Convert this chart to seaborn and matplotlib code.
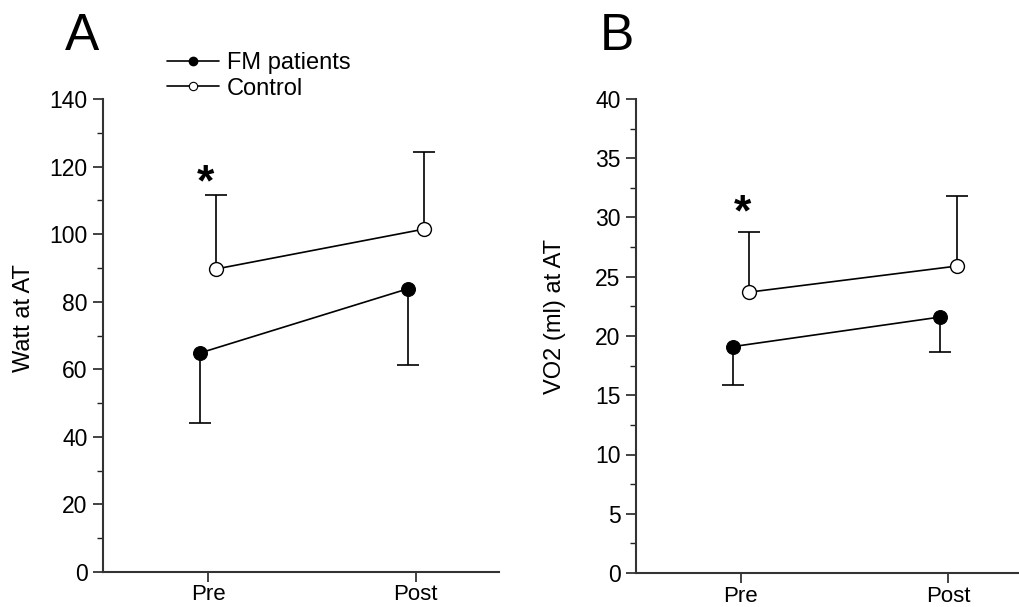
import numpy as np
import pandas as pd
import matplotlib
matplotlib.use("Agg")
import matplotlib.pyplot as plt
from matplotlib.lines import Line2D
from matplotlib.ticker import MultipleLocator
import seaborn as sns

# ---- data ----
time_labels = ["Pre", "Post"]
groups = ["FM patients", "Control"]

watt_fm = [64.8, 83.8]
watt_fm_sd = [20.6, 22.5]
watt_ctrl = [89.7, 101.5]
watt_ctrl_sd = [21.8, 22.8]

vo2_fm = [19.1, 21.6]
vo2_fm_sd = [3.2, 2.95]
vo2_ctrl = [23.7, 25.9]
vo2_ctrl_sd = [5.1, 5.9]

sns.set_style("ticks")
plt.rcParams["font.family"] = ["Liberation Sans", "DejaVu Sans"]
plt.rcParams["text.color"] = "black"
plt.rcParams["xtick.color"] = "#222222"
plt.rcParams["ytick.color"] = "#222222"
plt.rcParams["xtick.labelcolor"] = "black"
plt.rcParams["ytick.labelcolor"] = "black"
plt.rcParams["axes.labelcolor"] = "black"

fig = plt.figure(figsize=(10.19, 6.07), dpi=100)
axA = fig.add_axes([103/1019, 1-572/607, 396/1019, 473/607])
axB = fig.add_axes([636/1019, 1-573/607, 383/1019, 474/607])

dodge = 0.04
fs_tick = 16.5
fs_lab = 17
LW = 1.2

def make_df(fm, ctrl):
    rows = []
    for i, t in enumerate(time_labels):
        rows.append({"x": i - dodge, "value": fm[i], "group": "FM patients", "time": t})
        rows.append({"x": i + dodge, "value": ctrl[i], "group": "Control", "time": t})
    return pd.DataFrame(rows)

def one_sided(ax, x, y, err, up):
    y = np.asarray(y, dtype=float)
    err = np.asarray(err, dtype=float)
    yerr = [np.zeros_like(err), err] if up else [err, np.zeros_like(err)]
    _, caps, _ = ax.errorbar(x, y, yerr=yerr, fmt="none", ecolor="black",
                             elinewidth=LW, capsize=8, capthick=LW, zorder=2)
    # hide the cap that sits on the mean
    for c in caps:
        if np.allclose(c.get_ydata(), y):
            c.set_visible(False)

def draw(ax, fm, fm_sd, ctrl, ctrl_sd, ymax, major, minor, xmax, ylabel, star_xy, labcoords):
    df = make_df(fm, ctrl)
    fmdf = df[df.group == "FM patients"]
    cdf = df[df.group == "Control"]
    one_sided(ax, fmdf["x"].values, fmdf["value"].values, fm_sd, up=False)
    one_sided(ax, cdf["x"].values, cdf["value"].values, ctrl_sd, up=True)
    sns.lineplot(data=fmdf, x="x", y="value", ax=ax, color="black", lw=LW,
                 marker="o", markersize=10, markerfacecolor="black",
                 markeredgecolor="black", legend=False, zorder=3)
    sns.lineplot(data=cdf, x="x", y="value", ax=ax, color="black", lw=LW,
                 marker="o", markersize=10, markerfacecolor="white",
                 markeredgecolor="black", markeredgewidth=1.0, legend=False, zorder=3)
    ax.set_xlim(-0.505, xmax)
    ax.set_ylim(0, ymax)
    ax.set_xticks([0, 1])
    ax.set_xticklabels(time_labels)
    ax.yaxis.set_major_locator(MultipleLocator(major))
    ax.yaxis.set_minor_locator(MultipleLocator(minor))
    ax.tick_params(axis="y", which="major", labelsize=fs_tick, length=7, width=1.2,
                   direction="out", pad=4)
    ax.tick_params(axis="x", which="major", labelsize=16, length=7, width=1.2,
                   direction="out", pad=2)
    ax.tick_params(axis="y", which="minor", length=4, width=1.0)
    ax.set_xlabel("")
    ax.set_ylabel(ylabel, fontsize=fs_lab)
    ax.yaxis.set_label_coords(*labcoords)
    for s in ["top", "right"]:
        ax.spines[s].set_visible(False)
    for s in ["left", "bottom"]:
        ax.spines[s].set_linewidth(1.5)
        ax.spines[s].set_color("#333333")
    ax.text(star_xy[0], star_xy[1], "*", fontsize=32, fontweight="bold",
            ha="center", va="center")

draw(axA, watt_fm, watt_fm_sd, watt_ctrl, watt_ctrl_sd, 140, 20, 10, 1.40,
     "Watt at AT", (-0.01, 115.0), (-0.172, 0.537))
draw(axB, vo2_fm, vo2_fm_sd, vo2_ctrl, vo2_ctrl_sd, 40, 5, 2.5, 1.34,
     "VO2 (ml) at AT", (0.01, 30.3), (-0.183, 0.542))

fig.text(82/1019, 1-36/607, "A", fontsize=37, ha="center", va="center")
fig.text(617/1019, 1-36/607, "B", fontsize=37, ha="center", va="center")

handles = [
    Line2D([], [], color="black", lw=LW, marker="o", markersize=6,
           markerfacecolor="black", markeredgecolor="black"),
    Line2D([], [], color="black", lw=LW, marker="o", markersize=6,
           markerfacecolor="white", markeredgecolor="black", markeredgewidth=0.8),
]
fig.legend(handles, groups, loc="upper left", bbox_to_anchor=(167/1019, 1-52/607),
           frameon=False, fontsize=fs_lab, handlelength=2.2, handletextpad=0.35,
           labelspacing=0.15, borderpad=0, borderaxespad=0)

fig.savefig("out.png", dpi=100, facecolor="white")
